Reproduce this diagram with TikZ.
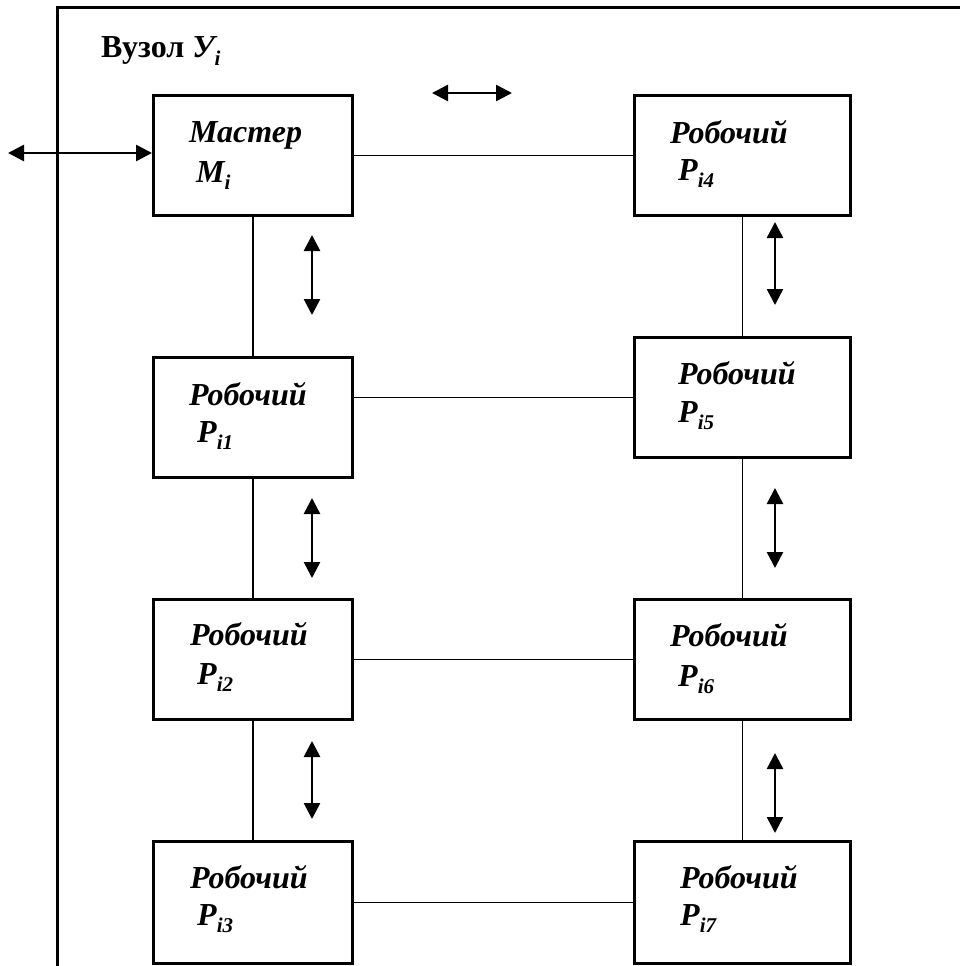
\documentclass[tikz,border=0pt]{standalone}
\usepackage{fontspec}
\setmainfont{Liberation Serif}
\usetikzlibrary{arrows.meta}
\newcommand\lowidx[1]{\raisebox{-0.22em}{\fontsize{21}{21}\selectfont #1}}
\tikzset{
  frameline/.style={line width=3pt},
  unit/.style={draw, line width=3pt, minimum height=120pt, inner sep=0pt, anchor=north west},
  leftunit/.style={unit, minimum width=199pt},
  rightunit/.style={unit, minimum width=216pt},
  lbl/.style={anchor=base west, inner sep=0pt, font=\bfseries\itshape\fontsize{32}{34}\selectfont},
  link/.style={line width=1.8pt},
  flow/.style={line width=2.5pt, {Triangle[length=16pt,width=16pt]}-{Triangle[length=16pt,width=16pt]}}
}
\begin{document}
\begin{tikzpicture}[x=1pt, y=-1pt]
\useasboundingbox (0,0) rectangle (960,966);

% node frame
\draw[frameline] (57,966) -- (57,8) -- (960,8);
\node[anchor=base west, inner sep=0pt, font=\bfseries\fontsize{32}{34}\selectfont] (title) at (101,58)
  {Вузол \textit{У\lowidx{i}}};

% boxes
\node[leftunit]  (M)  at (152,94)  {};
\node[leftunit]  (P1) at (152,356) {};
\node[leftunit]  (P2) at (152,598) {};
\node[leftunit, minimum height=122pt]  (P3) at (152,840) {};
\node[rightunit] (P4) at (633,94)  {};
\node[rightunit] (P5) at (633,336) {};
\node[rightunit] (P6) at (633,598) {};
\node[rightunit, minimum height=122pt] (P7) at (633,840) {};

% box captions
\node[lbl] (tM)  at (189,142) {Мастер};
\node[lbl] (sM)  at (196,182) {M\lowidx{i}};
\node[lbl] (t1)  at (189,405) {Робочий};
\node[lbl] (s1)  at (197,442) {P\lowidx{i1}};
\node[lbl] (t2)  at (190,645) {Робочий};
\node[lbl] (s2)  at (197,684) {P\lowidx{i2}};
\node[lbl] (t3)  at (190,888) {Робочий};
\node[lbl] (s3)  at (197,925) {P\lowidx{i3}};
\node[lbl] (t4)  at (670,143) {Робочий};
\node[lbl] (s4)  at (678,180) {P\lowidx{i4}};
\node[lbl] (t5)  at (678,384) {Робочий};
\node[lbl] (s5)  at (678,422) {P\lowidx{i5}};
\node[lbl] (t6)  at (670,646) {Робочий};
\node[lbl] (s6)  at (678,686) {P\lowidx{i6}};
\node[lbl] (t7)  at (680,888) {Робочий};
\node[lbl] (s7)  at (680,925) {P\lowidx{i7}};

% links between boxes
\draw[link] (M.east) -- (P4.west);
\draw[link] (P5.west -| P1.east) -- (P5.west);
\draw[link] (P2.east) -- (P6.west);
\draw[link] (P3.east) -- (P7.west);
\draw[link] (M.south) -- (P1.north);
\draw[link] (P1.south) -- (P2.north);
\draw[link] (P2.south) -- (P3.north);
\draw[link] (P4.south) -- (P5.north);
\draw[link] (P5.south) -- (P6.north);
\draw[link] (P6.south) -- (P7.north);

% data exchange arrows
\coordinate (ext) at (8,153);
\draw[flow] (ext) -- (M.west |- ext);
\coordinate (h1) at (432,93);  \coordinate (h2) at (512,93);
\draw[flow] (h1) -- (h2);
\coordinate (a1) at (312,235); \coordinate (a2) at (312,315);
\coordinate (b1) at (312,498); \coordinate (b2) at (312,578);
\coordinate (c1) at (312,741); \coordinate (c2) at (312,819);
\coordinate (d1) at (775,222); \coordinate (d2) at (775,305);
\coordinate (e1) at (775,488); \coordinate (e2) at (775,568);
\coordinate (f1) at (775,753); \coordinate (f2) at (775,833);
\draw[flow] (a1) -- (a2);
\draw[flow] (b1) -- (b2);
\draw[flow] (c1) -- (c2);
\draw[flow] (d1) -- (d2);
\draw[flow] (e1) -- (e2);
\draw[flow] (f1) -- (f2);
\end{tikzpicture}
\end{document}
